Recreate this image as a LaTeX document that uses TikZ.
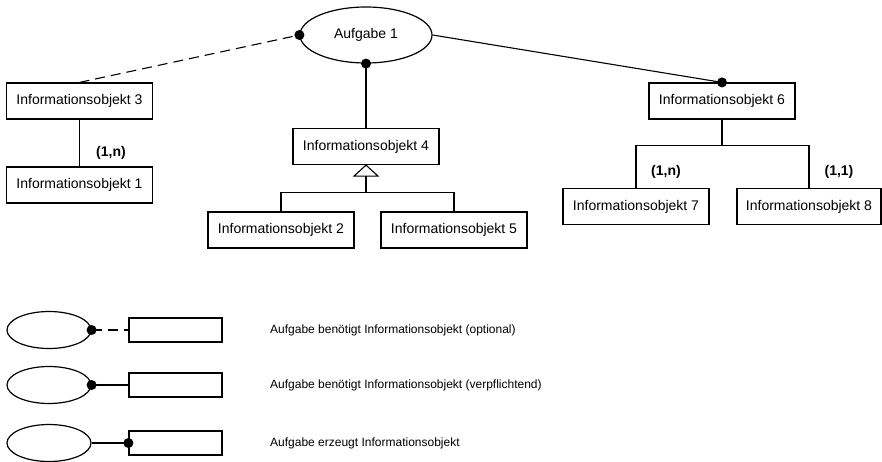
\documentclass[tikz,border=0pt]{standalone}
\usepackage{fontspec}
\setmainfont{Liberation Sans}
\usetikzlibrary{shapes.geometric,calc}
\begin{document}
\begin{tikzpicture}[x=1pt,y=-1pt,
  obj/.style={draw, rectangle, line width=1.2pt, minimum width=146pt, minimum height=36pt, inner sep=0pt, font=\fontsize{14}{16}\selectfont},
  legbox/.style={draw, rectangle, line width=1.2pt, minimum width=93pt, minimum height=24pt, inner sep=0pt},
  task/.style={draw, ellipse, line width=1.2pt, inner sep=0pt},
  conn/.style={line width=1.1pt},
  optconn/.style={line width=1.1pt, dash pattern=on 10pt off 6pt},
  card/.style={font=\bfseries\fontsize{14}{16}\selectfont, inner sep=0pt},
  legtext/.style={anchor=west, inner sep=0pt, font=\fontsize{12}{14}\selectfont},
  dotr/.store in=\dotr, dotr=5pt]
\useasboundingbox (0,0) rectangle (882,461);

% main nodes
\node[task, minimum width=132pt, minimum height=56pt, font=\fontsize{14}{16}\selectfont] (a1) at (366,35) {Aufgabe 1};
\node[obj] (i3) at (79.5,101) {Informationsobjekt 3};
\node[obj] (i1) at (79.5,185) {Informationsobjekt 1};
\node[obj] (i4) at (366,146.5) {Informationsobjekt 4};
\node[obj] (i2) at (281,230) {Informationsobjekt 2};
\node[obj] (i5) at (454,230) {Informationsobjekt 5};
\node[obj] (i6) at (722,101) {Informationsobjekt 6};
\node[obj] (i7) at (636,206.5) {Informationsobjekt 7};
\node[obj, minimum width=144pt] (i8) at (809,206.5) {Informationsobjekt 8};

% connectors
\draw[optconn] (i3.north) -- (a1.west);
\fill (a1.west) circle (\dotr);
\draw[conn] (a1.south) -- (i4.north);
\fill (a1.south) circle (\dotr);
\draw[conn] (a1.east) -- (i6.north);
\fill (i6.north) circle (\dotr);
\draw[conn] (i3.south) -- (i1.north);
\node[card] (c1) at (111,153) {(1,n)};

% generalization
\draw[line width=1.1pt, fill=white] (i4.south) -- ++(-12,11) coordinate (tl) -- ++(24,0) -- cycle;
\coordinate (gb) at ($(i4.south)+(0,11)$);
\draw[conn] (gb) -- ++(0,16) coordinate (gj);
\draw[conn] (i2.north) |- (gj) -| (i5.north);

% aggregation of 6
\draw[conn] (i6.south) -- ++(0,26) coordinate (j6);
\draw[conn] (i7.north) |- (j6) -| (i8.north);
\node[card] (c7) at (666,172) {(1,n)};
\node[card] (c8) at (839,172) {(1,1)};

% legend
\node[task, minimum width=84pt, minimum height=37pt] (la) at (49,330) {};
\node[legbox] (lb) at (175.5,330) {};
\draw[optconn] (la.east) -- (lb.west);
\fill (la.east) circle (\dotr);
\node[legtext] (lt1) at (270,330) {Aufgabe benötigt Informationsobjekt (optional)};

\node[task, minimum width=84pt, minimum height=37pt] (lc) at (49,385) {};
\node[legbox] (ld) at (175.5,385) {};
\draw[conn] (lc.east) -- (ld.west);
\fill (lc.east) circle (\dotr);
\node[legtext] (lt2) at (270,385) {Aufgabe benötigt Informationsobjekt (verpflichtend)};

\node[task, minimum width=84pt, minimum height=37pt] (le) at (49,443) {};
\node[legbox] (lf) at (175.5,443) {};
\draw[conn] (le.east) -- (lf.west);
\fill (lf.west) circle (\dotr);
\node[legtext] (lt3) at (270,443) {Aufgabe erzeugt Informationsobjekt};
\end{tikzpicture}
\end{document}
